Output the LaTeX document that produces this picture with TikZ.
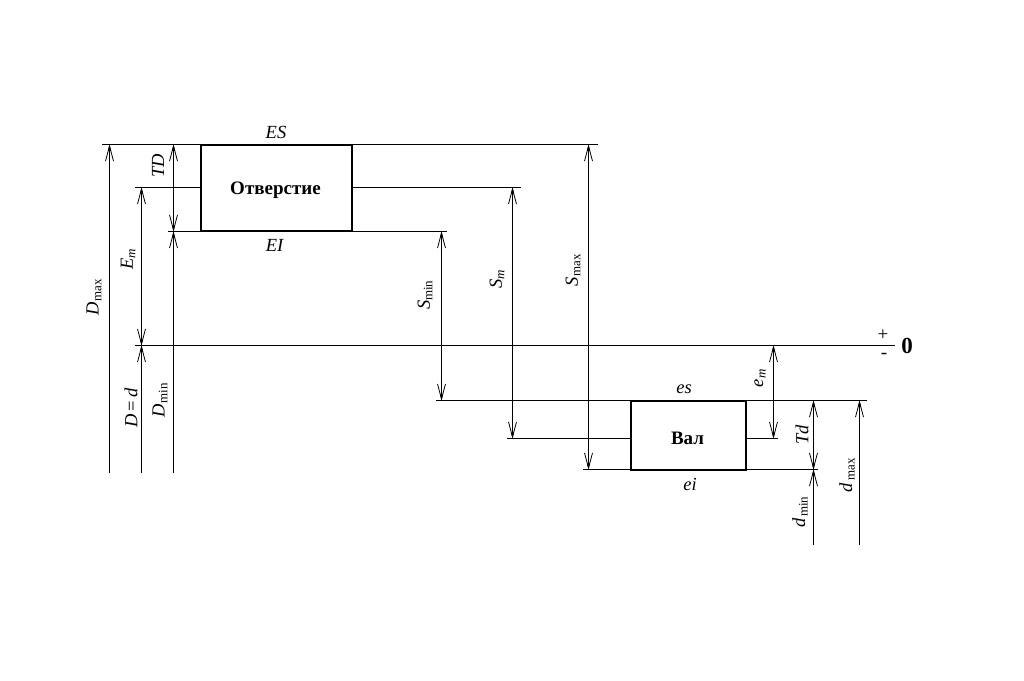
\documentclass[tikz,border=0pt]{standalone}
\usepackage{fontspec}
\setmainfont{Liberation Serif}
\usetikzlibrary{arrows.meta}
\begin{document}
\begin{tikzpicture}[
   x=1pt,y=-1pt,
   line width=1pt,
   barb/.tip={Straight Barb[length=15pt,width=8pt,line width=.8pt,sep=-6pt] Triangle[length=6pt,width=3pt]},
   field/.style={draw,line width=2pt,inner sep=0pt},
   fieldtext/.style={inner sep=0pt,font=\fontsize{19}{19}\selectfont\bfseries},
   sym/.style={inner sep=0pt,font=\fontsize{18.5}{19}\selectfont},
   vsym/.style={sym,rotate=90},
   to/.style={-{barb}},
   both/.style={{barb}-{barb}}]
\useasboundingbox (0,0) rectangle (1024,680);
\node[field,minimum width=151pt,minimum height=86pt] (hole) at (276.5,188) {};
\node[fieldtext] (holetext) at (275.5,190) {Отверстие};
\node[field,minimum width=115pt,minimum height=69pt] (shaft) at (688.5,435.5) {};
\node[fieldtext] (shafttext) at (687.5,438) {Вал};
\coordinate (ESl) at (102,144.5);
\coordinate (ESr) at (598,144.5);
\coordinate (Eml) at (135,187.5);
\coordinate (Emr) at (521,187.5);
\coordinate (EIl) at (168,231.5);
\coordinate (EIr) at (447,231.5);
\coordinate (zerol) at (135,345.5);
\coordinate (zeror) at (895,345.5);
\coordinate (esl) at (436,400.5);
\coordinate (esr) at (867,400.5);
\coordinate (eml) at (507,438.5);
\coordinate (emr) at (778,438.5);
\coordinate (eil) at (583,469.5);
\coordinate (eir) at (818,469.5);
\coordinate (Dmaxfoot) at (109.5,473);
\coordinate (Dfoot) at (141.5,473);
\coordinate (Dminfoot) at (173.5,473);
\coordinate (dminfoot) at (813.5,545);
\coordinate (dmaxfoot) at (859.5,545);
\coordinate (Smin) at (441.5,300);
\coordinate (Sm) at (512.5,300);
\coordinate (Smax) at (588.5,300);
\coordinate (em) at (773.5,400);
\coordinate (Td) at (813.5,435);
\draw (ESl) -- (ESr);
\draw (Eml) -- (hole.west |- Eml);
\draw (hole.east |- Emr) -- (Emr);
\draw (EIl) -- (EIr);
\draw (zerol) -- (zeror);
\draw (esl) -- (esr);
\draw (eml) -- (eml -| shaft.west);
\draw (shaft.east |- emr) -- (emr);
\draw (eil) -- (eir);
\draw[to] (Dmaxfoot) -- (Dmaxfoot |- ESl);
\draw[to] (Dfoot) -- (Dfoot |- zerol);
\draw[to] (Dminfoot) -- (Dminfoot |- EIl);
\draw[both] (Dfoot |- Eml) -- (Dfoot |- zerol);
\draw[both] (Dminfoot |- ESl) -- (Dminfoot |- EIl);
\draw[both] (Smin |- EIr) -- (Smin |- esl);
\draw[both] (Sm |- Emr) -- (Sm |- eml);
\draw[both] (Smax |- ESr) -- (Smax |- eil);
\draw[both] (em |- zeror) -- (em |- emr);
\draw[both] (Td |- esr) -- (Td |- eir);
\draw[to] (dminfoot) -- (dminfoot |- eir);
\draw[to] (dmaxfoot) -- (dmaxfoot |- esr);
\node[sym] (ES) at (276,132) {\textit{ES}};
\node[sym] (EI) at (275,245) {\textit{EI}};
\node[sym] (es) at (684,389) {\textit{es}};
\node[sym] (ei) at (690,484) {\textit{ei}};
\node[vsym] (TD) at (158,166) {\textit{TD}};
\node[vsym] (Em) at (128,259) {$\mathit{E}_{\mathit{m}}$};
\node[vsym] (Dmax) at (94,297) {$\mathit{D}_{\mathrm{max}}$};
\node[vsym] (D=d) at (131,408) {\textit{D}\,=\,\textit{d}};
\node[vsym] (Dmin) at (160,400) {$\mathit{D}_{\mathrm{min}}$};
\node[vsym] (Sminl) at (425,295) {$\mathit{S}_{\mathrm{min}}$};
\node[vsym] (Sml) at (497,279) {$\mathit{S}_{\mathit{m}}$};
\node[vsym] (Smaxl) at (573,270) {$\mathit{S}_{\mathrm{max}}$};
\node[vsym] (emlabel) at (760,378) {$\mathit{e}_{\mathit{m}}$};
\node[vsym] (Tdl) at (802,435) {\textit{Td}};
\node[vsym] (dminl) at (800,512) {$\mathit{d}_{\,\mathrm{min}}$};
\node[vsym] (dmaxl) at (847,475) {$\mathit{d}_{\,\mathrm{max}}$};
\node[inner sep=0pt,font=\fontsize{19}{19}\selectfont] (plus) at (883,335) {+};
\node[inner sep=0pt,font=\fontsize{19}{19}\selectfont] (minus) at (884,356) {-};
\node[inner sep=0pt,font=\fontsize{23}{23}\selectfont\bfseries] (zero) at (907,346) {0};
\end{tikzpicture}
\end{document}
